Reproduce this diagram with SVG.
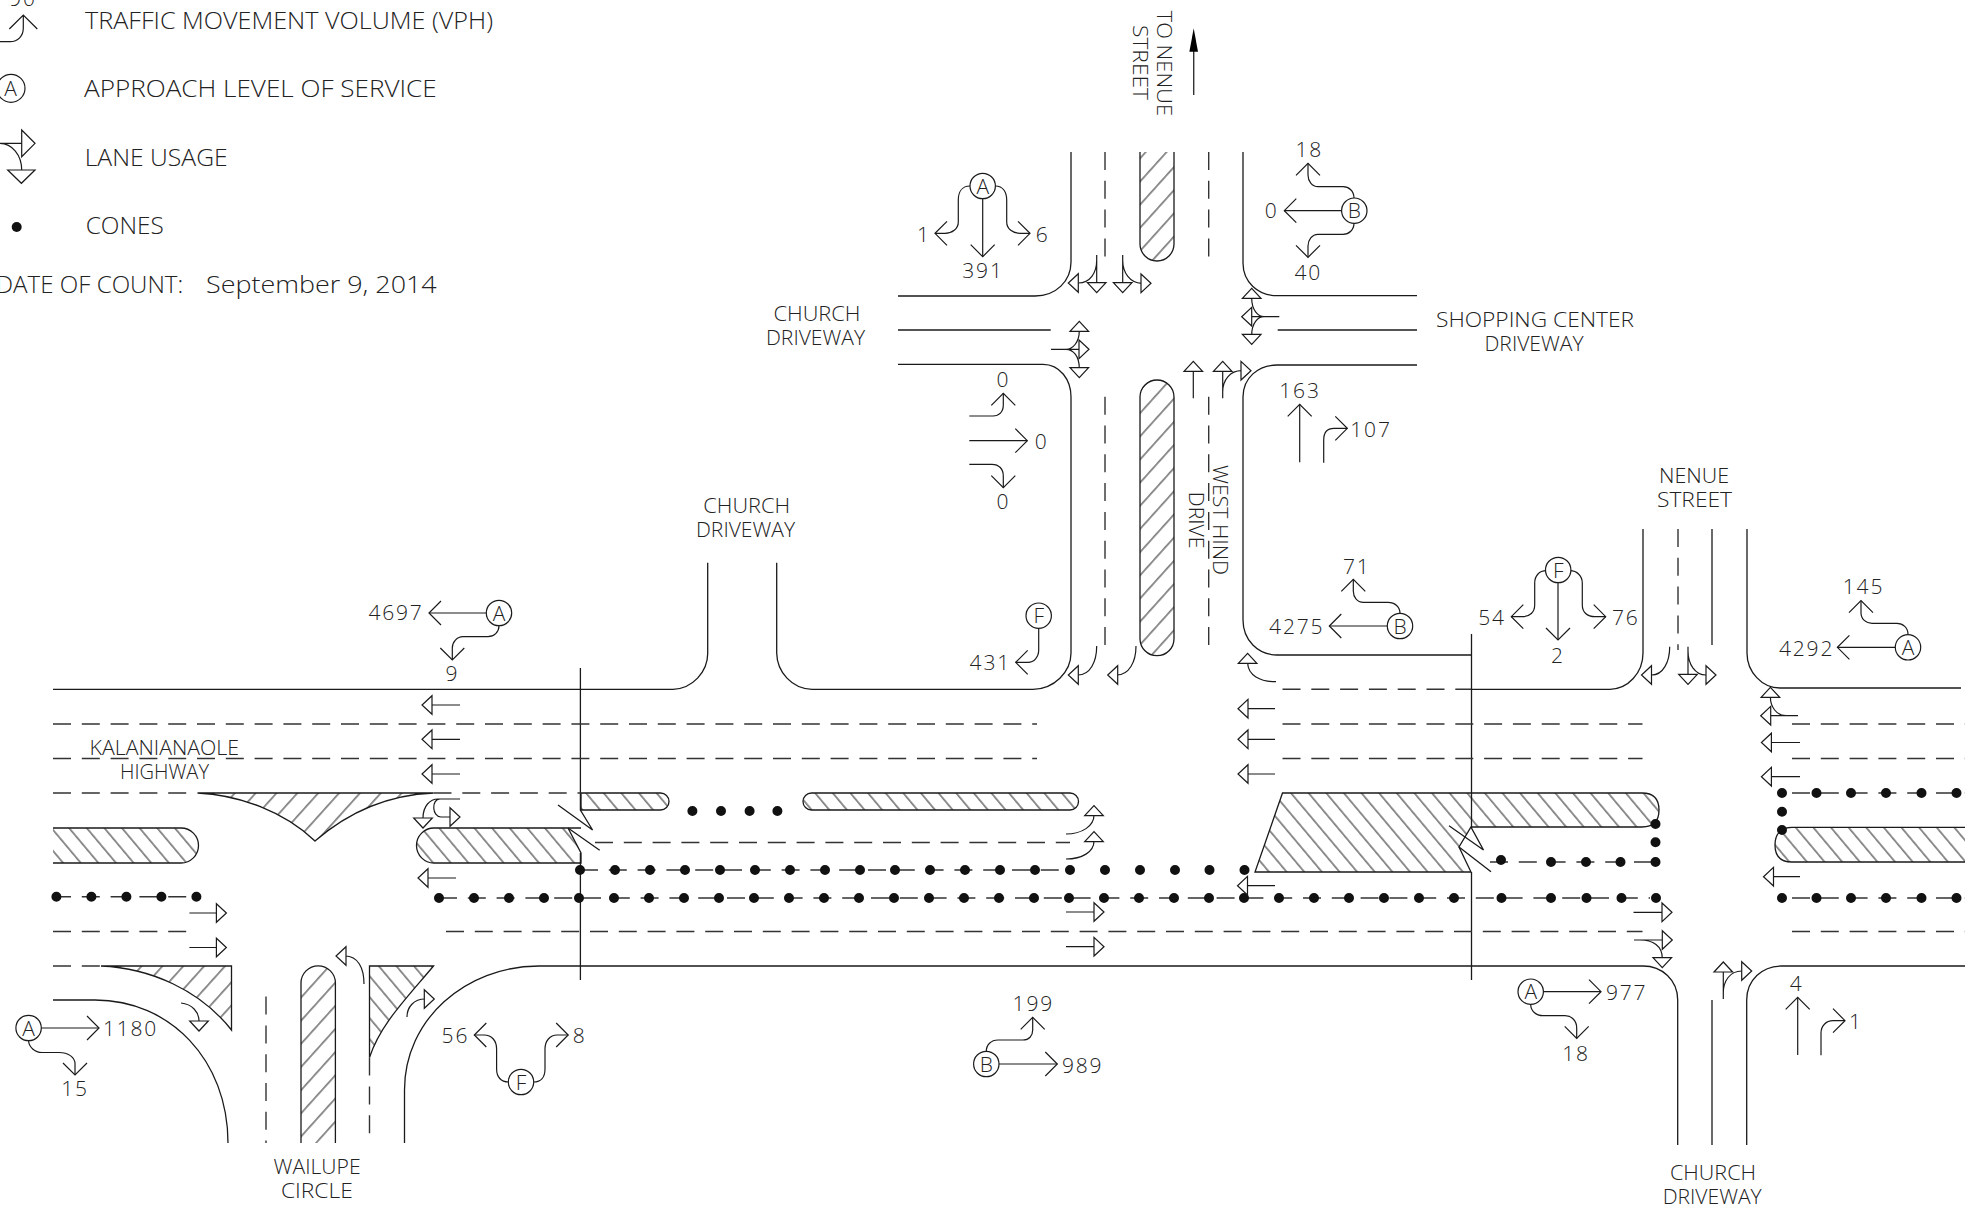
<svg xmlns="http://www.w3.org/2000/svg" width="1965" height="1211" viewBox="0 0 1965 1211">
<style>
.r{fill:none;stroke:#1a1a1a;stroke-width:1.3}
.d{fill:none;stroke:#333;stroke-width:1.4;stroke-dasharray:18 10.8}
.a{fill:none;stroke:#1a1a1a;stroke-width:1.2}
.c{fill:none;stroke:#111;stroke-width:10;stroke-linecap:round}
.cr{stroke-dasharray:0 35}
.n{fill:#fff;stroke:#1a1a1a;stroke-width:1.2}
text{font-family:"Open Sans","Liberation Sans",Arial,sans-serif;font-weight:300;font-size:21px;fill:#222}
.m{text-anchor:middle;letter-spacing:1.8px}
.l{font-size:24.6px}
.hb{fill:url(#hb);stroke:#1a1a1a;stroke-width:1.3}
.hf{fill:url(#hf);stroke:#1a1a1a;stroke-width:1.3}
</style>
<defs>
<pattern id="hb" width="13.5" height="13.5" patternUnits="userSpaceOnUse" patternTransform="rotate(-40)"><rect width="13.5" height="13.5" fill="#fff"/><line x1="6.7" y1="0" x2="6.7" y2="13.5" stroke="#222" stroke-width="1"/></pattern>
<pattern id="hf" width="15.5" height="15.5" patternUnits="userSpaceOnUse" patternTransform="rotate(42)"><rect width="15.5" height="15.5" fill="#fff"/><line x1="7.7" y1="0" x2="7.7" y2="15.5" stroke="#222" stroke-width="1"/></pattern>
<polygon id="t" points="-10,-9.3 0,0 -10,9.3" fill="#fff" stroke="#1a1a1a" stroke-width="1.2"/>
<path id="o" d="M-12 -12 L0 0 L-12 12" fill="none" stroke="#1a1a1a" stroke-width="1.2"/>
</defs>
<rect width="1965" height="1211" fill="#fff"/>

<g id="hatching">
<path class="hb" d="M53 828 H181 A17.5 17.5 0 0 1 181 863 H53"/>
<path class="hf" d="M197.5 793 H433.5 C385 795 345 815 315 841 C285 812 240 795 197.5 793Z"/>
<path class="hb" d="M581 828 H568 L581 853 V863 H434 A17.5 17.5 0 0 1 434 828 H581"/>
<path class="hb" d="M581 793 H660.5 A8.5 8.5 0 0 1 660.5 810 H581Z"/>
<path class="hb" d="M811.5 793 H1070 A8.5 8.5 0 0 1 1070 810 H811.5 A8.5 8.5 0 0 1 811.5 793Z"/>
<path class="hf" d="M101 966 H231.5 V1030 C200 990 150 968 101 966Z"/>
<path class="hf" d="M301 1143 V983 A17.2 17.2 0 0 1 335.4 983 V1143"/>
<path class="hb" d="M369.5 1057.6 V966 H433.5 C405 1000 380 1025 369.5 1057.6Z"/>
<path class="hf" d="M1140 152 V244 A17 17 0 0 0 1174 244 V152"/>
<path class="hf" d="M1140 397 A17 17 0 0 1 1174 397 V638.7 A17 17 0 0 1 1140 638.7Z"/>
<path class="hb" d="M1282.5 793 H1642 C1655 793 1659 800 1659 810 C1659 820 1655 827 1642 827 H1471 L1459 847 L1471 872 H1255Z"/>
<path class="hb" d="M1965 827.3 H1792 C1780 827.3 1775 835 1775 845 C1775 855 1780 862 1792 862 H1965"/>
</g>

<g id="roads">
<path class="r" d="M53 689.3 H673 C692 689 708 672 707.7 653 V562.7"/>
<path class="r" d="M776.7 562.7 V653 C777 672 792 689 812 689.3 H1033 C1054 689 1071 672 1071 653 V396.7 C1071 380 1060 364.3 1043 364.3 H898"/>
<path class="r" d="M898 296 H1035 C1056 296 1071 281 1071 262 V152"/>
<path class="r" d="M898 330 H1050.7"/>
<path class="r" d="M1243 152 V263 C1243 282 1258 295.7 1277 295.7 H1417"/>
<path class="r" d="M1277.7 330 H1417"/>
<path class="r" d="M1417 365 H1277 C1258 365 1243 378 1243 397 V620 C1243 640 1258 655 1277 655 H1471"/>
<path class="r" d="M1471 689.3 H1610 C1628 689 1643 673 1643 653 V529"/>
<path class="r" d="M1712 529 V645"/>
<path class="r" d="M1747 529 V653 C1747 672 1762 688 1780 688 H1961"/>
<path class="r" d="M53 1000 H95 C170 1000 228 1060 228 1143"/>
<path class="r" d="M404.5 1143 V1090 C404.5 1020 465 966 539 966 H1643 C1662 966 1677.7 980 1677.7 1000 V1145"/>
<path class="r" d="M1712 1000 V1145"/>
<path class="r" d="M1746.7 1145 V1000 C1746.7 980 1762 966 1781.7 966 H1965"/>
<path class="r" d="M580.4 668 V810 L592.6 830 L558 805 M568 828 L599.7 850.3 M580.4 853 V980"/>
<path class="r" d="M1471.5 634 V828 L1483.5 850 L1449 825.7 M1459 847 L1491 871.7 M1471.5 872 V980"/>
<path class="d" d="M53 724 H1037 M53 758.5 H1037 M53 793 H197 M433.5 793 H581 M595 842.5 H1070 M53 931.5 H197 M446 931.5 H1642.5 M53 966 H101"/>
<path class="d" d="M1282.5 689.3 H1471 M1282.5 724 H1642.5 M1282.5 758.5 H1642.5 M1792 724 H1965 M1792 758.5 H1965 M1792 931.5 H1965"/>
<path class="d" d="M1105 152 V261 M1105 396.7 V655 M1208.7 152 V261 M1208.7 396.7 V655 M1678 529 V650 M266 996.6 V1143 M369.5 1057.6 V1143"/>
<path class="d" d="M53 896.7 H197 M439 898 H1650 M580 870 H1062 M1490 862 H1655 M1792 793 H1965 M1792 898 H1965"/>
</g>

<g id="cones">
<path class="c" d="M16.7 227h0"/>
<path class="c cr" d="M56.4 896.7 H197"/>
<path class="c cr" d="M439 898 H1455"/>
<path class="c cr" d="M580 870 H1176"/>
<path class="c" d="M692.4 811h0 M721 811h0 M749.6 811h0 M777.4 811h0"/>
<path class="c" d="M1209.5 870h0 M1244.5 870h0"/>
<path class="c" d="M1501.5 898h0 M1551 898h0 M1586.5 898h0 M1621.5 898h0 M1656 898h0"/>
<path class="c" d="M1501 860h0 M1551 862h0 M1586 862h0 M1620.5 862h0 M1655.5 862h0 M1655.5 842.3h0 M1655.5 824h0"/>
<path class="c" d="M1782 793h0 M1816.5 793h0 M1851 793h0 M1886 793h0 M1921.5 793h0 M1956.5 793h0 M1782 811.7h0 M1782 830h0"/>
<path class="c" d="M1782 898h0 M1816.5 898h0 M1851 898h0 M1886 898h0 M1921.5 898h0 M1956.5 898h0"/>
</g>

<g id="lane-arrows">
<path class="a" d="M460 705H432 M460 739.3H432 M460 774H432 M456 878H428"/>
<use href="#t" transform="translate(422 705) rotate(180)"/><use href="#t" transform="translate(422 739.3) rotate(180)"/><use href="#t" transform="translate(422 774) rotate(180)"/><use href="#t" transform="translate(418 878) rotate(180)"/>
<path class="a" d="M460 799 H438 C430 799 423 806 423 818 M460 799 H440 C431 799 432 817 441 817 H450"/>
<use href="#t" transform="translate(423 828) rotate(90)"/><use href="#t" transform="translate(460 817)"/>
<path class="a" d="M189.4 913H217 M189.4 947.5H217 M181 1003 C192 1004 199 1012 199 1021"/>
<use href="#t" transform="translate(226.4 913)"/><use href="#t" transform="translate(226.4 947.5)"/><use href="#t" transform="translate(199 1031) rotate(90)"/>
<path class="a" d="M364 984 C364 968 358 956 345 956 M407 1017 C407 1007 414 999 425 999"/>
<use href="#t" transform="translate(336 956) rotate(180)"/><use href="#t" transform="translate(434.3 999)"/>
<path class="a" d="M1066 834 C1082 834 1094 826 1094 815 M1066 859 C1082 859 1094 852 1094 841 M1066 912H1095 M1066 946.7H1095"/>
<use href="#t" transform="translate(1094 805.7) rotate(-90)"/><use href="#t" transform="translate(1094 831.7) rotate(-90)"/><use href="#t" transform="translate(1104 912)"/><use href="#t" transform="translate(1104 946.7)"/>
<path class="a" d="M1096.7 646 C1096.7 662 1090 675 1078 675 M1136 646 C1136 662 1129 675 1116.7 675"/>
<use href="#t" transform="translate(1068.3 675) rotate(180)"/><use href="#t" transform="translate(1107.7 675) rotate(180)"/>
<path class="a" d="M1096.7 255 V283.3 M1096.7 260 C1096.7 273 1090 283 1078.3 283 M1122.7 255 V283.3 M1122.7 260 C1122.7 273 1130 283 1141.7 283.3"/>
<use href="#t" transform="translate(1096.7 292.7) rotate(90)"/><use href="#t" transform="translate(1068.3 283) rotate(180)"/><use href="#t" transform="translate(1122.7 292.7) rotate(90)"/><use href="#t" transform="translate(1151 283.3)"/>
<path class="a" d="M1279.3 316.7 H1251.7 M1264 316.7 C1258 316.7 1251.7 310 1251.7 298.3 M1264 316.7 C1258 316.7 1251.7 323 1251.7 335"/>
<use href="#t" transform="translate(1241.7 316.7) rotate(180)"/><use href="#t" transform="translate(1251.7 288.3) rotate(-90)"/><use href="#t" transform="translate(1251.7 344.3) rotate(90)"/>
<path class="a" d="M1051 349.3 H1079.3 M1066 349.3 C1073 349.3 1079.3 342 1079.3 330.7 M1066 349.3 C1073 349.3 1079.3 356 1079.3 368.3"/>
<use href="#t" transform="translate(1089 349.3)"/><use href="#t" transform="translate(1079.3 321.3) rotate(-90)"/><use href="#t" transform="translate(1079.3 377.7) rotate(90)"/>
<path class="a" d="M1193.3 398.3 V370.7 M1222.7 398.3 V370.7 M1222.7 392 C1222.7 380 1230 370.7 1241.7 370.7"/>
<use href="#t" transform="translate(1193.3 361.3) rotate(-90)"/><use href="#t" transform="translate(1222.7 361.3) rotate(-90)"/><use href="#t" transform="translate(1251 370.7)"/>
<path class="a" d="M1276 681.7 C1260 682 1248 675 1247.7 663.3 M1275 708.7H1247 M1275 739.3H1247 M1275 774H1247 M1275 885.7H1247"/>
<use href="#t" transform="translate(1247.6 653.3) rotate(-90)"/><use href="#t" transform="translate(1238 708.7) rotate(180)"/><use href="#t" transform="translate(1238 739.3) rotate(180)"/><use href="#t" transform="translate(1238 774) rotate(180)"/><use href="#t" transform="translate(1237.5 885.7) rotate(180)"/>
<path class="a" d="M1633.5 912.3H1662.3 M1634 940H1662.3 M1640 940 C1653 940 1662.3 946 1662.3 958.3"/>
<use href="#t" transform="translate(1672 912.3)"/><use href="#t" transform="translate(1672.3 940)"/><use href="#t" transform="translate(1662.3 967.7) rotate(90)"/>
<path class="a" d="M1723.3 999 V971 M1723.3 993 C1723.3 981 1730 971 1741.7 971"/>
<use href="#t" transform="translate(1723.3 962) rotate(-90)"/><use href="#t" transform="translate(1751.7 971)"/>
<path class="a" d="M1669.7 646.7 C1669.7 662 1663 675 1651.6 675 M1688 646.7 V675 M1688 651 C1688 664 1695 675 1706 675"/>
<use href="#t" transform="translate(1641.5 675) rotate(180)"/><use href="#t" transform="translate(1688 684.3) rotate(90)"/><use href="#t" transform="translate(1716 675)"/>
<path class="a" d="M1798 715.7 H1770.4 M1786 715.7 C1776 715.7 1770.4 706 1770.4 697.3 M1800 742.5H1771 M1800 776.7H1771 M1800 876.7H1772"/>
<use href="#t" transform="translate(1760.7 715.7) rotate(180)"/><use href="#t" transform="translate(1770.4 687.3) rotate(-90)"/><use href="#t" transform="translate(1761.4 742.5) rotate(180)"/><use href="#t" transform="translate(1761.4 776.7) rotate(180)"/><use href="#t" transform="translate(1763.5 876.7) rotate(180)"/>
<path d="M1193.7 95 V50" stroke="#333" stroke-width="1.4" fill="none"/>
<polygon points="1193.7,28.3 1198,51.7 1189.4,51.7" fill="#000"/>
</g>

<g id="legend">
<path class="a" d="M0 41.7 H10 C18 41.7 23.3 36 23.3 28 V15 M9.3 29 L23.3 15 L37.3 29"/>
<text class="m" x="23" y="6">90</text>
<circle class="n" cx="11" cy="88.3" r="14"/><text class="m" x="11.5" y="96">A</text>
<path class="a" d="M0 143.3 H21.7 M0 143.3 C12 143.3 21.7 155 21.7 170"/>
<polygon points="21.7,130 35,143.3 21.7,156.7" fill="none" stroke="#1a1a1a" stroke-width="1.2"/>
<polygon points="7.7,170 35,170 21.4,183.3" fill="none" stroke="#1a1a1a" stroke-width="1.2"/>
<text class="l" x="85" y="29.3" textLength="408" lengthAdjust="spacingAndGlyphs">TRAFFIC MOVEMENT VOLUME (VPH)</text>
<text class="l" x="84" y="97.3" textLength="352.7" lengthAdjust="spacingAndGlyphs">APPROACH LEVEL OF SERVICE</text>
<text class="l" x="84.7" y="166" textLength="143" lengthAdjust="spacingAndGlyphs">LANE USAGE</text>
<text class="l" x="85.7" y="234" textLength="78" lengthAdjust="spacingAndGlyphs">CONES</text>
<text class="l" y="293.3"><tspan x="-4" textLength="187.3" lengthAdjust="spacingAndGlyphs">DATE OF COUNT:</tspan> <tspan x="206" textLength="230.7" lengthAdjust="spacingAndGlyphs">September 9, 2014</tspan></text>
</g>

<g id="road-labels">
<text x="703.3" y="512.7" textLength="86.7" lengthAdjust="spacingAndGlyphs">CHURCH</text>
<text x="696" y="537.3" textLength="99" lengthAdjust="spacingAndGlyphs">DRIVEWAY</text>
<text x="773.5" y="320.5" textLength="87" lengthAdjust="spacingAndGlyphs">CHURCH</text>
<text x="766" y="344.5" textLength="99" lengthAdjust="spacingAndGlyphs">DRIVEWAY</text>
<text x="1436" y="327" textLength="198" lengthAdjust="spacingAndGlyphs">SHOPPING CENTER</text>
<text x="1484.5" y="351" textLength="99" lengthAdjust="spacingAndGlyphs">DRIVEWAY</text>
<text x="1659" y="483.3" textLength="70" lengthAdjust="spacingAndGlyphs">NENUE</text>
<text x="1657" y="507.3" textLength="75" lengthAdjust="spacingAndGlyphs">STREET</text>
<text x="89.6" y="755" textLength="149.4" lengthAdjust="spacingAndGlyphs">KALANIANAOLE</text>
<text x="120" y="779.2" textLength="89" lengthAdjust="spacingAndGlyphs">HIGHWAY</text>
<text x="273.6" y="1173.7" textLength="87" lengthAdjust="spacingAndGlyphs">WAILUPE</text>
<text x="281" y="1198" textLength="71.7" lengthAdjust="spacingAndGlyphs">CIRCLE</text>
<text x="1670" y="1180" textLength="86" lengthAdjust="spacingAndGlyphs">CHURCH</text>
<text x="1662.7" y="1204" textLength="99" lengthAdjust="spacingAndGlyphs">DRIVEWAY</text>
<text transform="translate(1157.3 10.7) rotate(90)" textLength="105.3" lengthAdjust="spacingAndGlyphs">TO NENUE</text>
<text transform="translate(1133.3 25) rotate(90)" textLength="75" lengthAdjust="spacingAndGlyphs">STREET</text>
<text transform="translate(1213.3 465) rotate(90)" textLength="110" lengthAdjust="spacingAndGlyphs">WEST HIND</text>
<text transform="translate(1189 491.7) rotate(90)" textLength="56.7" lengthAdjust="spacingAndGlyphs">DRIVE</text>
</g>

<g id="movement-north-west-hind-sb">
<path class="a" d="M982.7 199 V256.7 M970 186 C962 186 958.3 192 958.3 200 V222 C958.3 229 952 233.3 945 233.3 H935 M995.4 186 C1003 186 1006.7 192 1006.7 200 V222 C1006.7 229 1013 233.3 1020 233.3 H1030"/>
<use href="#o" transform="translate(982.7 256.7) rotate(90)"/><use href="#o" transform="translate(935 233.3) rotate(180)"/><use href="#o" transform="translate(1030 233.3)"/>
<circle class="n" cx="982.7" cy="186" r="12.7"/><text class="m" x="983.6" y="193.5">A</text>
<text class="m" x="924" y="241.5">1</text><text class="m" x="1042.7" y="241.5">6</text><text class="m" x="983" y="278.2">391</text>
</g>
<g id="movement-shopping-center-wb">
<path class="a" d="M1342 210.7 H1284.3 M1354 198 C1354 191 1349 186.7 1343 186.7 H1318 C1312 186.7 1308 181 1308 175 V163.3 M1354 223 C1354 230 1349 234.3 1343 234.3 H1318 C1312 234.3 1308 240 1308 246 V257.3"/>
<use href="#o" transform="translate(1284.3 210.7) rotate(180)"/><use href="#o" transform="translate(1308 163.3) rotate(-90)"/><use href="#o" transform="translate(1308 257.3) rotate(90)"/>
<circle class="n" cx="1354.3" cy="210.7" r="12.7"/><text class="m" x="1355.2" y="218.2">B</text>
<text class="m" x="1309.3" y="156.8">18</text><text class="m" x="1271.7" y="218.2">0</text><text class="m" x="1308.3" y="279.8">40</text>
</g>
<g id="movement-church-eb">
<path class="a" d="M969.3 416 H993 C999 416 1003.3 412 1003.3 405 V393.3 M969.3 440.7 H1027.3 M969.3 464.3 H992 C999 464.3 1003.3 469 1003.3 476 V487.7"/>
<use href="#o" transform="translate(1003.3 393.3) rotate(-90)"/><use href="#o" transform="translate(1027.3 440.7)"/><use href="#o" transform="translate(1003.3 487.7) rotate(90)"/>
<text class="m" x="1003.3" y="386.8">0</text><text class="m" x="1041.7" y="448.5">0</text><text class="m" x="1003.3" y="509.2">0</text>
</g>
<g id="movement-west-hind-nb">
<path class="a" d="M1299.7 462.3 V404.3 M1323.7 462.7 V440 C1323.7 433 1327 428.3 1334 428.3 H1347.3"/>
<use href="#o" transform="translate(1299.7 404.3) rotate(-90)"/><use href="#o" transform="translate(1347.3 428.3)"/>
<text class="m" x="1300" y="398.2">163</text><text class="m" x="1371" y="436.5">107</text>
</g>
<g id="movement-431">
<path class="a" d="M1038.7 628.3 V650 C1038.7 657 1034 662.3 1028 662.3 H1015.7"/>
<use href="#o" transform="translate(1015.7 662.3) rotate(180)"/>
<circle class="n" cx="1038.7" cy="615.7" r="12.7"/><text class="m" x="1039.6" y="623.2">F</text>
<text class="m" x="990.3" y="670.2">431</text>
</g>
<g id="movement-4275">
<path class="a" d="M1387.3 626 H1329.3 M1400 613.3 C1400 607 1395 602.3 1388 602.3 H1363.3 C1357 602.3 1353.3 597 1353.3 591 V579.3"/>
<use href="#o" transform="translate(1329.3 626) rotate(180)"/><use href="#o" transform="translate(1353.3 579.3) rotate(-90)"/>
<circle class="n" cx="1400" cy="626" r="12.7"/><text class="m" x="1400.9" y="633.5">B</text>
<text class="m" x="1356.7" y="573.5">71</text><text class="m" x="1296.7" y="634">4275</text>
</g>
<g id="movement-nenue-sb">
<path class="a" d="M1558 583 V640 M1546.5 570.7 C1539 570.7 1534.7 576 1534.7 583 V605 C1534.7 612 1530 616.7 1522 616.7 H1511.3 M1570 570.7 C1577 570.7 1582.3 576 1582.3 583 V605 C1582.3 612 1587 616.7 1595 616.7 H1605.7"/>
<use href="#o" transform="translate(1558 640) rotate(90)"/><use href="#o" transform="translate(1511.3 616.7) rotate(180)"/><use href="#o" transform="translate(1605.7 616.7)"/>
<circle class="n" cx="1558.2" cy="570" r="12.7"/><text class="m" x="1559.1" y="577.5">F</text>
<text class="m" x="1492" y="625.2">54</text><text class="m" x="1558" y="662.5">2</text><text class="m" x="1625.8" y="625.2">76</text>
</g>
<g id="movement-4292">
<path class="a" d="M1895.3 647.3 H1837.4 M1908 634.3 C1908 628 1903 623.3 1897 623.3 H1872 C1866 623.3 1861 619 1861 613 V600.7"/>
<use href="#o" transform="translate(1837.4 647.3) rotate(180)"/><use href="#o" transform="translate(1861 600.7) rotate(-90)"/>
<circle class="n" cx="1908" cy="647.3" r="12.7"/><text class="m" x="1908.9" y="654.8">A</text>
<text class="m" x="1806.6" y="655.5">4292</text><text class="m" x="1863.5" y="594.2">145</text>
</g>
<g id="movement-4697">
<path class="a" d="M486.3 613 H429 M499 626 C499 632 494 636.7 488 636.7 H463 C457 636.7 452.3 642 452.3 648 V660"/>
<use href="#o" transform="translate(429 613) rotate(180)"/><use href="#o" transform="translate(452.3 660) rotate(90)"/>
<circle class="n" cx="499" cy="613" r="12.7"/><text class="m" x="499.9" y="620.5">A</text>
<text class="m" x="396" y="620">4697</text><text class="m" x="452.3" y="680.8">9</text>
</g>
<g id="movement-wailupe">
<path class="a" d="M508.4 1082 C501 1082 496.6 1077 496.6 1069 V1049 C496.6 1041 492 1035 484 1035 H474.3 M533.7 1082 C541 1082 545 1077 545 1069 V1049 C545 1041 550 1035 557 1035 H568.2"/>
<use href="#o" transform="translate(474.3 1035) rotate(180)"/><use href="#o" transform="translate(568.2 1035)"/>
<circle class="n" cx="521" cy="1082" r="12.7"/><text class="m" x="521.9" y="1089.5">F</text>
<text class="m" x="455.4" y="1042.5">56</text><text class="m" x="579.6" y="1043">8</text>
</g>
<g id="movement-1180">
<path class="a" d="M41 1028 H99 M28.6 1040.6 C28.6 1047 35 1052.5 42 1052.5 H59 C68 1052.5 75 1057 75 1064 V1075"/>
<use href="#o" transform="translate(99 1028)"/><use href="#o" transform="translate(75 1075) rotate(90)"/>
<circle class="n" cx="28.6" cy="1028" r="12.7"/><text class="m" x="29.5" y="1035.5">A</text>
<text class="m" x="130.5" y="1035.5">1180</text><text class="m" x="75" y="1095.5">15</text>
</g>
<g id="movement-977">
<path class="a" d="M1543.4 991.7 H1601 M1530.7 1004.3 C1530.7 1011 1536 1015.7 1543 1015.7 H1565 C1572 1015.7 1576.7 1021 1576.7 1028 V1038.3"/>
<use href="#o" transform="translate(1601 991.7)"/><use href="#o" transform="translate(1576.7 1038.3) rotate(90)"/>
<circle class="n" cx="1530.7" cy="991.7" r="12.7"/><text class="m" x="1531.6" y="999.2">A</text>
<text class="m" x="1626.7" y="999.8">977</text><text class="m" x="1576" y="1060.8">18</text>
</g>
<g id="movement-church-nb">
<path class="a" d="M1797.7 1055 V997.3 M1821 1055.3 V1033 C1821 1026 1826 1020.7 1833 1020.7 H1845"/>
<use href="#o" transform="translate(1797.7 997.3) rotate(-90)"/><use href="#o" transform="translate(1845 1020.7)"/>
<text class="m" x="1796.7" y="990.8">4</text><text class="m" x="1856" y="1029.2">1</text>
</g>
<g id="movement-989">
<path class="a" d="M999 1064 H1057.3 M986.3 1051.3 C986.3 1045 991 1040 998 1040 H1023 C1029 1040 1032.7 1036 1032.7 1030 V1017.3"/>
<use href="#o" transform="translate(1057.3 1064)"/><use href="#o" transform="translate(1032.7 1017.3) rotate(-90)"/>
<circle class="n" cx="986.3" cy="1064" r="12.7"/><text class="m" x="987.2" y="1071.5">B</text>
<text class="m" x="1082.7" y="1072.5">989</text><text class="m" x="1033.3" y="1010.8">199</text>
</g>
</svg>
